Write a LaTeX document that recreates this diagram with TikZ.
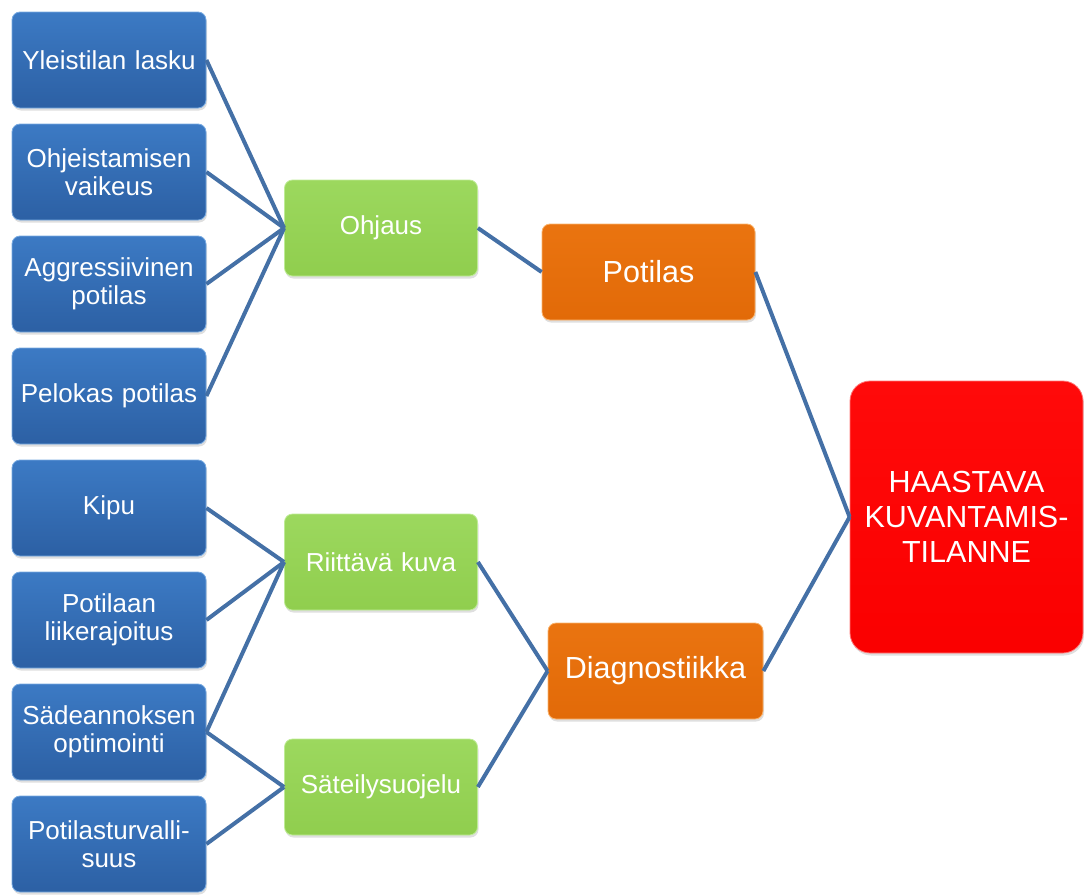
\documentclass[tikz,border=0pt]{standalone}
\usepackage{fontspec}
\setmainfont{Liberation Sans}
\usetikzlibrary{shadows}
\definecolor{conn}{RGB}{68,112,166}
\definecolor{blueT}{RGB}{60,122,196}
\definecolor{blueB}{RGB}{44,96,164}
\definecolor{blueE}{RGB}{120,170,225}
\definecolor{greenT}{RGB}{156,216,94}
\definecolor{greenB}{RGB}{144,206,78}
\definecolor{greenE}{RGB}{190,235,150}
\definecolor{orT}{RGB}{234,116,16}
\definecolor{orB}{RGB}{226,106,8}
\definecolor{orE}{RGB}{250,180,110}
\definecolor{redT}{RGB}{255,10,10}
\definecolor{redB}{RGB}{250,0,0}
\definecolor{redE}{RGB}{255,120,120}
\tikzset{
  box/.style={rounded corners=8pt, text=white, align=center, inner sep=2pt,
    line width=0.8pt, drop shadow={opacity=0.25, shadow xshift=1pt, shadow yshift=-2.5pt}},
  leaf/.style={box, top color=blueT, bottom color=blueB, draw=blueE,
    minimum width=194pt, minimum height=96pt, text width=190pt,
    font=\fontsize{26}{28.5}\selectfont},
  mid/.style={box, top color=greenT, bottom color=greenB, draw=greenE,
    minimum width=193pt, minimum height=96pt, text width=189pt,
    font=\fontsize{26}{28.5}\selectfont},
  top/.style={box, top color=orT, bottom color=orB, draw=orE,
    minimum height=96pt, font=\fontsize{30.5}{35}\selectfont},
  root/.style={box, rounded corners=20pt, top color=redT, bottom color=redB, draw=redE,
    minimum width=233pt, minimum height=272pt, text width=229pt,
    font=\fontsize{30.5}{35}\selectfont},
  link/.style={draw=conn, line width=4pt}
}
\begin{document}
\begin{tikzpicture}[x=1pt,y=-1pt]
\useasboundingbox (0,0) rectangle (1084,894);
% leaves
\node[leaf] (l1) at (109,60)  {Yleistilan lasku};
\node[leaf] (l2) at (109,172) {Ohjeistamisen\\vaikeus};
\node[leaf] (l3) at (109,284) {Aggressiivinen\\potilas};
\node[leaf] (l4) at (109,396) {Pelokas potilas};
\node[leaf] (l5) at (109,508) {Kipu};
\node[leaf] (l6) at (109,620) {Potilaan\\liikerajoitus};
\node[leaf] (l7) at (109,732) {Sädeannoksen\\optimointi};
\node[leaf] (l8) at (109,844) {Potilasturvalli-\\suus};
% middle
\node[mid] (m1) at (381,228) {Ohjaus};
\node[mid] (m2) at (381,562) {Riittävä kuva};
\node[mid] (m3) at (381,787) {Säteilysuojelu};
% top
\node[top, minimum width=213pt] (t1) at (648.5,272) {Potilas};
\node[top, minimum width=215pt] (t2) at (655.5,671) {Diagnostiikka};
% root
\node[root] (r) at (966.5,517) {HAASTAVA\\KUVANTAMIS-\\TILANNE};
% connectors
\foreach \a in {l1,l2,l3,l4} \draw[link] (\a.east) -- (m1.west);
\foreach \a in {l5,l6,l7} \draw[link] (\a.east) -- (m2.west);
\foreach \a in {l7,l8} \draw[link] (\a.east) -- (m3.west);
\draw[link] (m1.east) -- (t1.west);
\draw[link] (m2.east) -- (t2.west);
\draw[link] (m3.east) -- (t2.west);
\draw[link] (t1.east) -- (r.west);
\draw[link] (t2.east) -- (r.west);
\end{tikzpicture}
\end{document}
